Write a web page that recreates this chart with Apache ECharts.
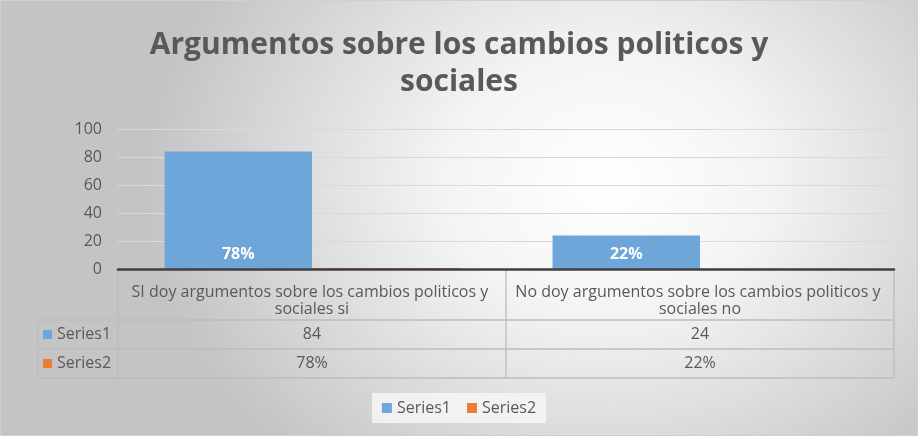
<!DOCTYPE html>
<html>
<head>
<meta charset="utf-8">
<script src="https://cdn.jsdelivr.net/npm/echarts@6/dist/echarts.min.js"></script>
<style>
html,body{margin:0;padding:0;}
#chart{width:918px;height:436px;background:radial-gradient(ellipse 50% 85% at 66% 42%, #ffffff 0%, #f4f4f4 35%, #c4c4c4 100%);box-sizing:border-box;border:1px solid #d0d0d0;}
</style>
</head>
<body>
<div id="chart"></div>
<script>
const titleText = "Argumentos sobre los cambios politicos y\nsociales";
const categories = ["SI doy argumentos sobre los cambios politicos y sociales si", "No doy argumentos sobre los cambios politicos y sociales no"];
const seriesNames = ["Series1", "Series2"];
const series1 = [84, 24];
const series2 = [0.78, 0.22];
const yTicks = [0, 20, 40, 60, 80, 100];
const colors = ["#6fa6da", "#ed7d31"];

const FONT = "Open Sans";
const TXT = "#595959";
const FS = 16;
const pct = v => Math.round(v * 100) + "%";

const chart = echarts.init(document.getElementById('chart'), null, {renderer: 'canvas'});
const option = {
  backgroundColor: 'transparent',
  animation: false,
  textStyle: {fontFamily: FONT},
  title: {
    text: titleText,
    left: 'center',
    top: 21,
    textStyle: {fontFamily: FONT, fontSize: 30, fontWeight: 'bold', color: TXT, lineHeight: 37}
  },
  legend: {
    bottom: 12,
    left: 'center',
    icon: 'rect',
    itemWidth: 10,
    itemHeight: 10,
    itemGap: 16,
    itemTextGap: 5,
    padding: [7, 10],
    backgroundColor: 'rgba(246,246,246,0.85)',
    textStyle: {fontFamily: FONT, fontSize: FS, color: TXT},
    data: seriesNames
  },
  grid: {left: 117, right: 23, top: 128, bottom: 166, containLabel: false},
  xAxis: {
    type: 'category',
    data: categories,
    z: 5,
    axisLine: {lineStyle: {color: '#404040', width: 2.5}},
    axisTick: {show: false},
    axisLabel: {
      interval: 0,
      margin: 15,
      width: 372,
      overflow: 'break',
      fontFamily: FONT,
      fontSize: FS,
      lineHeight: 17,
      color: TXT,
      align: 'center'
    }
  },
  yAxis: {
    type: 'value',
    min: yTicks[0],
    max: yTicks[yTicks.length - 1],
    interval: yTicks[1] - yTicks[0],
    axisLine: {show: false},
    axisTick: {show: false},
    splitLine: {lineStyle: {color: '#d9d9d9', width: 1}},
    axisLabel: {margin: 16, fontFamily: FONT, fontSize: FS, color: TXT}
  },
  series: [
    {
      name: seriesNames[0],
      type: 'bar',
      data: series1,
      barWidth: '38%',
      barGap: '0%',
      itemStyle: {color: colors[0]},
      label: {
        show: true,
        position: 'insideBottom',
        distance: 7,
        formatter: p => pct(series2[p.dataIndex]),
        color: '#ffffff',
        fontFamily: FONT,
        fontWeight: 'bold',
        fontSize: FS
      }
    },
    {
      name: seriesNames[1],
      type: 'bar',
      data: series2,
      barWidth: '38%',
      barGap: '0%',
      itemStyle: {color: colors[1]}
    }
  ]
};
chart.setOption(option);

// Data table (drawn relative to the axes)
function drawTable() {
  const c0 = chart.convertToPixel({xAxisIndex: 0}, 0);
  const c1 = chart.convertToPixel({xAxisIndex: 0}, 1);
  const band = c1 - c0;
  const xL = c0 - band / 2;
  const xM = c0 + band / 2;
  const xR = c1 + band / 2;
  const y0 = chart.convertToPixel({yAxisIndex: 0}, 0);
  const yH = y0 + 51, y1 = yH + 29, y2 = y1 + 29;
  const keyL = 37;
  const lc = '#bcbcbc';
  const line = (x1, ya, x2, yb) => ({type: 'line', silent: true, z: 5,
    shape: {x1: x1, y1: ya, x2: x2, y2: yb}, style: {stroke: lc, lineWidth: 1.3}});
  const els = [
    line(xL, y0, xL, y2),
    line(xM, y0, xM, y2),
    line(xR, y0, xR, y2),
    line(keyL, yH, xR, yH),
    line(keyL, y1, xR, y1),
    line(keyL, y2, xR, y2),
    line(keyL, yH, keyL, y2)
  ];
  const rows = [series1.map(v => String(v)), series2.map(pct)];
  const rowY = [(yH + y1) / 2, (y1 + y2) / 2];
  rows.forEach((vals, r) => {
    els.push({type: 'rect', silent: true, z: 6,
      shape: {x: keyL + 5, y: rowY[r] - 4.5, width: 9, height: 9},
      style: {fill: colors[r]}});
    els.push({type: 'text', silent: true, z: 6, x: keyL + 19, y: rowY[r],
      style: {text: seriesNames[r], fontFamily: FONT, fontSize: FS, fill: TXT,
        textAlign: 'left', textVerticalAlign: 'middle'}});
    vals.forEach((t, i) => {
      const cx = chart.convertToPixel({xAxisIndex: 0}, i);
      els.push({type: 'text', silent: true, z: 6, x: cx, y: rowY[r],
        style: {text: t, fontFamily: FONT, fontSize: FS, fill: TXT,
          textAlign: 'center', textVerticalAlign: 'middle'}});
    });
  });
  chart.setOption({graphic: {elements: els}});
}
drawTable();
</script>
</body>
</html>
